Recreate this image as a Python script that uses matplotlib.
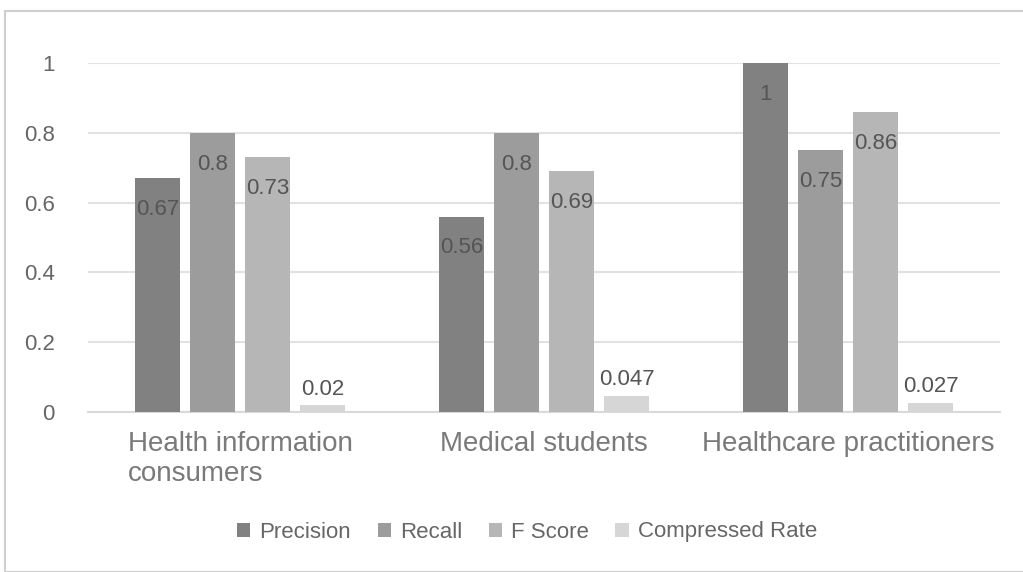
import matplotlib.pyplot as plt
import numpy as np
from matplotlib.patches import Rectangle

# Data
groups = ["Health information\nconsumers", "Medical students", "Healthcare practitioners"]
series = ["Precision", "Recall", "F Score", "Compressed Rate"]
precision = [0.67, 0.56, 1.0]
recall = [0.8, 0.8, 0.75]
f_score = [0.73, 0.69, 0.86]
compressed = [0.02, 0.047, 0.027]
labels_txt = [["0.67", "0.56", "1"], ["0.8", "0.8", "0.75"],
              ["0.73", "0.69", "0.86"], ["0.02", "0.047", "0.027"]]
yticks = [0, 0.2, 0.4, 0.6, 0.8, 1]
ytick_labels = ["0", "0.2", "0.4", "0.6", "0.8", "1"]

colors = ["#818181", "#9c9c9c", "#b6b6b6", "#d6d6d6"]
values = [precision, recall, f_score, compressed]

plt.rcParams['font.family'] = ['Liberation Sans', 'DejaVu Sans']

fig = plt.figure(figsize=(10.23, 5.72), dpi=100)
# outer chart frame
fig.patches.append(Rectangle((5 / 1023, 0), 1.0, 1 - 11 / 572, transform=fig.transFigure,
                             fill=False, edgecolor="#cfcfcf", linewidth=1.5))
ax = fig.add_axes([88 / 1023, 1 - 412 / 572, 912 / 1023, 349 / 572])

x = np.arange(len(groups))
width = 0.145
step = 0.181
for i, (name, vals) in enumerate(zip(series, values)):
    pos = x + (i - 1.5) * step
    ax.bar(pos, vals, width, color=colors[i], label=name, zorder=3, clip_on=False)
    for p, v, t in zip(pos, vals, labels_txt[i]):
        if v > 0.1:
            ax.text(p, v - 0.09, t, ha="center", va="center", fontsize=16, color="#555555", zorder=4)
        else:
            ax.text(p, v + 0.015, t, ha="center", va="bottom", fontsize=16, color="#555555", zorder=4)

ax.set_xlim(-0.5, 2.5)
ax.set_ylim(0, 1)
ax.set_yticks(yticks)
ax.set_yticklabels(ytick_labels, fontsize=16, color="#666666")
ax.yaxis.grid(True, color="#e2e2e2", linewidth=1.5, zorder=0)
for s in ["top", "right", "left"]:
    ax.spines[s].set_visible(False)
ax.spines["bottom"].set_color("#d9d9d9")
ax.spines["bottom"].set_linewidth(1.5)
ax.tick_params(axis="both", length=0)
ax.tick_params(axis="y", pad=24)
ax.set_xticks(x)
ax.set_xticklabels(groups, fontsize=20, color="#7a7a7a", linespacing=1.2,
                   multialignment="left", va="top")
ax.tick_params(axis="x", pad=14)

leg = fig.legend(loc="center", bbox_to_anchor=(527 / 1023, 1 - 532 / 572), ncol=4,
                 frameon=False, fontsize=16, handlelength=0.6, handleheight=0.6,
                 handletextpad=0.4, columnspacing=1.2)
for t in leg.get_texts():
    t.set_color("#666666")

fig.savefig("out.png", dpi=100)
